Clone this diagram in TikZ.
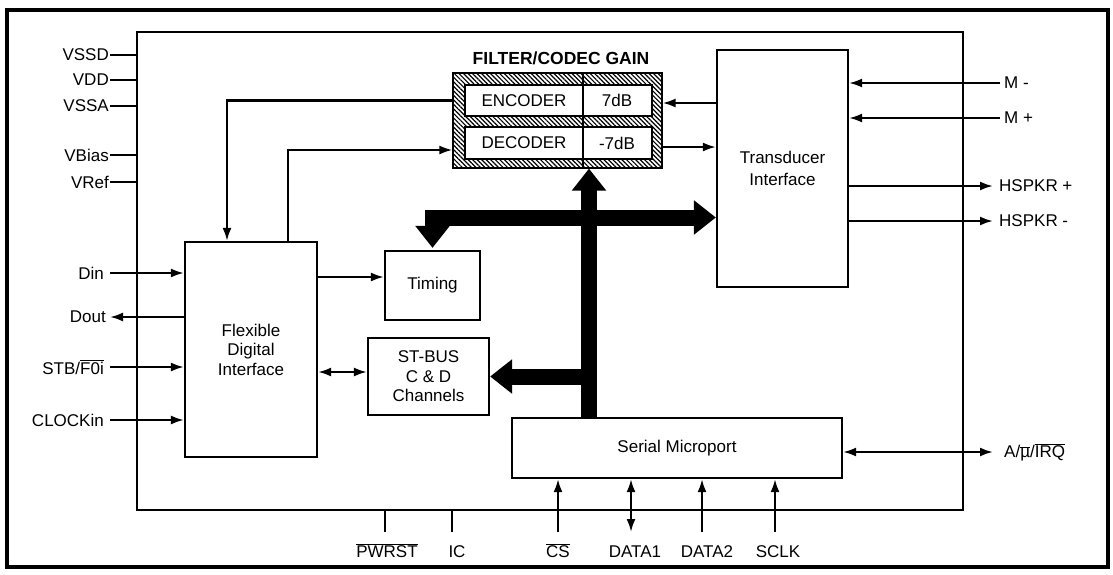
\documentclass[tikz,border=0pt]{standalone}
\usepackage{fontspec}
\setmainfont{Liberation Sans}
\usetikzlibrary{arrows.meta,patterns.meta,calc}
\begin{document}
\begin{tikzpicture}[x=1pt,y=-1pt,
  every node/.style={font=\fontsize{17}{19.5}\selectfont},
  blk/.style={draw,line width=2.2pt,fill=white,align=center,inner sep=0pt},
  arr/.style={line width=2.2pt,-{Latex[length=13pt,width=9pt]}},
  darr/.style={line width=2.2pt,{Latex[length=13pt,width=9pt]}-{Latex[length=13pt,width=9pt]}},
  pinl/.style={line width=2.2pt},
  bus/.style={line width=16pt,line join=miter,-{Triangle[width=33pt,length=22pt]}},
  lbl/.style={inner sep=1pt}
]
\useasboundingbox (0,0) rectangle (1113,574);
% outer frame and chip
\draw[line width=3.5pt] (7,10) rectangle (1108,567);
\node[draw,line width=2.2pt,minimum width=826pt,minimum height=478pt,inner sep=0pt] (chip) at (550,271) {};
% filter / codec
\node[font=\fontsize{17.5}{20}\selectfont\bfseries] (title) at (561,58) {FILTER/CODEC GAIN};
\node[draw,line width=2pt,minimum width=209pt,minimum height=95pt,inner sep=0pt,
      pattern={Lines[angle=-45,distance=3.2pt,line width=1.2pt]}] (codec) at (557.5,120.5) {};
\node[blk,minimum width=187pt,minimum height=31pt] (enc) at (558.5,100.5) {};
\node[blk,minimum width=187pt,minimum height=32pt] (dec) at (558.5,143) {};
\draw[line width=2pt] (583,73) -- (583,168);
\node (enctxt) at (524,100.5) {ENCODER};
\node (encg) at (617,100.5) {7dB};
\node (dectxt) at (524,143) {DECODER};
\node (decg) at (617,143) {-7dB};
% blocks
\node[blk,minimum width=131pt,minimum height=237pt] (tr) at (782.5,168.5) {Transducer\\[3pt]Interface};
\node[blk,minimum width=132pt,minimum height=215pt] (fdi) at (251,349.5) {Flexible\\Digital\\Interface};
\node[blk,minimum width=95pt,minimum height=69pt] (tim) at (432.5,285.5) {Timing};
\node[blk,minimum width=121pt,minimum height=77pt] (stb) at (428.5,376.5) {ST-BUS\\C \& D\\Channels};
\node[blk,minimum width=330pt,minimum height=60pt] (ser) at (677,448) {Serial Microport};
% thick buses
\coordinate (vb) at (589,0);
\draw[bus] (ser.north -| vb) -- (codec.south -| vb);
\coordinate (hb) at (0,217.5);
\draw[bus,{Triangle[width=33pt,length=22pt]}-{Triangle[width=33pt,length=22pt]}]
  ([yshift=2pt]tim.north) |- (tr.west |- hb);
\draw[bus] ($(stb.east)+(100,0)$) -- (stb.east);
% codec connections
\draw[arr] (enc.center -| codec.west) -| ([xshift=-24pt]fdi.north);
\draw[arr] ([xshift=37pt]fdi.north) |- ($(codec.west)+(0,29.5)$);
\draw[arr] ($(tr.west)+(0,-65.5)$) -- ($(codec.east)+(0,-17.5)$);
\draw[arr] ($(codec.east)+(0,26.5)$) -- ($(tr.west)+(0,-21.5)$);
\draw[arr] ($(fdi.east)+(0,-72.5)$) -- ($(tim.west)+(0,-8.5)$);
\draw[darr] ($(fdi.east)+(0,22.5)$) -- ($(stb.west)+(0,-4.5)$);
% left pins
\foreach \n/\t/\y in {vssd/VSSD/55,vdd/VDD/80,vssa/VSSA/106,vbias/VBias/155,vref/VRef/182}{
  \coordinate (p\n) at (110,\y);
  \draw[pinl] (p\n) -- (p\n -| chip.west);
  \node[lbl,anchor=east] (l\n) at (p\n) {\t};
}
\coordinate (pdin) at (110,273);
\coordinate (pdout) at (110,317);
\coordinate (pstb) at (110,367);
\coordinate (pclk) at (110,420);
\draw[arr] (pdin) -- (pdin -| fdi.west);
\draw[arr] (pdout -| fdi.west) -- (pdout);
\draw[arr] (pstb) -- (pstb -| fdi.west);
\draw[arr] (pclk) -- (pclk -| fdi.west);
\node[lbl,anchor=east] (ldin) at ([xshift=-5pt]pdin) {Din};
\node[lbl,anchor=east] (ldout) at ([xshift=-3pt]pdout) {Dout};
\node[lbl,anchor=east] (lstb) at ([xshift=-5pt]pstb) {STB/$\overline{\mbox{F0i}}$};
\node[lbl,anchor=east] (lclk) at ([xshift=-5pt]pclk) {CLOCKin};
% right pins
\coordinate (pmm) at (1000,83);
\coordinate (pmp) at (1000,118);
\coordinate (php) at (993,186);
\coordinate (phm) at (993,221);
\coordinate (pirq) at (993,452);
\draw[arr] (pmm) -- (pmm -| tr.east);
\draw[arr] (pmp) -- (pmp -| tr.east);
\draw[arr] (php -| tr.east) -- (php);
\draw[arr] (phm -| tr.east) -- (phm);
\draw[darr] (pirq -| ser.east) -- (pirq);
\node[lbl,anchor=west] (lmm) at ([xshift=3pt]pmm) {M -};
\node[lbl,anchor=west] (lmp) at ([xshift=3pt]pmp) {M +};
\node[lbl,anchor=west] (lhp) at ([xshift=5pt]php) {HSPKR +};
\node[lbl,anchor=west] (lhm) at ([xshift=5pt]phm) {HSPKR -};
\node[lbl,anchor=west] (lirq) at ([xshift=10pt]pirq) {A/$\overline{\mbox{µ}}$/$\overline{\mbox{IRQ}}$};
% bottom pins
\coordinate (ppw) at (385,532);
\coordinate (pic) at (452,532);
\coordinate (pcs) at (558,532);
\coordinate (pd1) at (631,532);
\coordinate (pd2) at (702,532);
\coordinate (psc) at (775,532);
\draw[pinl] (ppw |- chip.south) -- (ppw);
\draw[pinl] (pic |- chip.south) -- (pic);
\draw[arr] (pcs) -- (pcs |- ser.south);
\draw[darr] (pd1) -- (pd1 |- ser.south);
\draw[arr] (pd2) -- (pd2 |- ser.south);
\draw[arr] (psc) -- (psc |- ser.south);
\node[lbl,anchor=base] (lpw) at (387,557) {$\overline{\mbox{PWRST}}$};
\node[lbl,anchor=base] (lic) at (457,557) {IC};
\node[lbl,anchor=base] (lcs) at (558,557) {$\overline{\mbox{CS}}$};
\node[lbl,anchor=base] (ld1) at (635,557) {DATA1};
\node[lbl,anchor=base] (ld2) at (707,557) {DATA2};
\node[lbl,anchor=base] (lsc) at (778,557) {SCLK};
\end{tikzpicture}
\end{document}
